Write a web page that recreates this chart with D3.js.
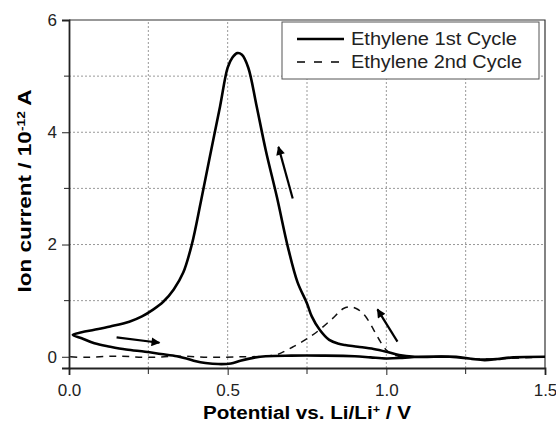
<!DOCTYPE html>
<html>
<head>
  <meta charset="utf-8">
  <script src="https://d3js.org/d3.v7.min.js"></script>
  <style>
    body { margin: 0; background: #fff; }
    svg { font-family: "Liberation Sans", Arial, Helvetica, sans-serif; }
    .grid line { stroke: #999; stroke-dasharray: 2,2; stroke-width: 1; }
  </style>
</head>
<body>
<svg width="556" height="425"></svg>
<script>
// 1st cycle (solid), in scan order: 1.5 V down to 0 V, then back up
var cycle1V = [1.50, 1.40, 1.35, 1.31, 1.27, 1.22, 1.15, 1.09, 1.04, 1.00, 0.96, 0.91, 0.87, 0.85, 0.82, 0.79, 0.765, 0.75, 0.72, 0.69, 0.655, 0.62, 0.59, 0.565, 0.545, 0.53, 0.515, 0.50, 0.476, 0.444, 0.415, 0.387, 0.36, 0.33, 0.297, 0.265, 0.23, 0.19, 0.13, 0.08, 0.04, 0.012,
               0.04, 0.08, 0.13, 0.18, 0.24, 0.29, 0.34, 0.37, 0.40, 0.43, 0.47, 0.51, 0.54, 0.58, 0.62, 0.70, 0.80, 0.90, 0.95, 1.00, 1.05, 1.10, 1.20, 1.30, 1.35, 1.40, 1.50];
var cycle1I = [0.00, -0.01, -0.04, -0.06, -0.04, 0.00, 0.00, 0.00, 0.03, 0.09, 0.14, 0.18, 0.21, 0.23, 0.30, 0.48, 0.72, 0.95, 1.33, 1.95, 2.85, 3.68, 4.50, 5.15, 5.38, 5.41, 5.33, 5.15, 4.46, 3.57, 2.75, 2.00, 1.50, 1.20, 0.98, 0.84, 0.72, 0.625, 0.54, 0.48, 0.435, 0.39,
               0.33, 0.24, 0.18, 0.13, 0.09, 0.05, 0.01, -0.03, -0.08, -0.11, -0.13, -0.12, -0.07, -0.02, 0.01, 0.02, 0.02, 0.01, -0.01, -0.03, -0.02, 0.00, 0.00, -0.05, -0.04, -0.01, 0.00];

// 2nd cycle (dashed)
var cycle2V = [1.50, 1.30, 1.20, 1.10, 1.03, 1.00, 0.975, 0.96, 0.943, 0.925, 0.905, 0.885, 0.865, 0.85, 0.83, 0.81, 0.785, 0.76, 0.735, 0.707, 0.68, 0.655, 0.62, 0.55, 0.45, 0.35, 0.25, 0.15, 0.05, 0.00];
var cycle2I = [0.00, -0.04, 0.00, 0.00, 0.02, 0.12, 0.33, 0.48, 0.65, 0.78, 0.86, 0.89, 0.86, 0.79, 0.68, 0.58, 0.46, 0.36, 0.27, 0.18, 0.10, 0.04, 0.01, 0.00, -0.01, 0.01, -0.01, 0.01, -0.01, 0.00];

// scan direction arrows [fromV, fromI, toV, toI]
var arrows = [
  [0.150, 0.345, 0.285, 0.25],
  [0.705, 2.82, 0.66, 3.74],
  [1.035, 0.27, 0.972, 0.845]
];

var xMajor = [0, 0.5, 1.0, 1.5];
var xMinor = [0.25, 0.75, 1.25];
var yMajor = [0, 2, 4, 6];
var yMinor = [1, 3, 5];

var seriesNames = ["Ethylene 1st Cycle", "Ethylene 2nd Cycle"];

var svg = d3.select("svg"),
    margin = {top: 20, right: 11, bottom: 57, left: 69},
    width = +svg.attr("width") - margin.left - margin.right,
    height = +svg.attr("height") - margin.top - margin.bottom;

var x = d3.scaleLinear().domain([0, 1.5]).range([margin.left, margin.left + width]);
var y = d3.scaleLinear().domain([-0.2, 6]).range([margin.top + height, margin.top]);

// gridlines
var grid = svg.append("g").attr("class", "grid");
grid.selectAll(".gx")
  .data(xMinor.concat([0.5, 1.0]))
  .enter().append("line")
    .attr("x1", function(d) { return x(d); })
    .attr("x2", function(d) { return x(d); })
    .attr("y1", y(-0.2)).attr("y2", y(6));
grid.selectAll(".gy")
  .data(yMinor.concat([2, 4]))
  .enter().append("line")
    .attr("y1", function(d) { return y(d); })
    .attr("y2", function(d) { return y(d); })
    .attr("x1", x(0)).attr("x2", x(1.5));

// frame top / right
svg.append("path")
  .attr("d", "M" + x(0) + "," + y(6) + "H" + x(1.5) + "V" + y(-0.2))
  .attr("fill", "none").attr("stroke", "#333").attr("stroke-width", 1.2);

// axes
var xAxis = svg.append("g")
  .attr("transform", "translate(0," + y(-0.2) + ")")
  .call(d3.axisBottom(x).tickValues(xMajor).tickSize(7).tickPadding(9)
        .tickFormat(d3.format(".1f")));
xAxis.append("g").selectAll("line")
  .data(xMinor).enter().append("line")
    .attr("x1", function(d) { return x(d); })
    .attr("x2", function(d) { return x(d); })
    .attr("y2", 6).attr("stroke", "#222");

var yAxis = svg.append("g")
  .attr("transform", "translate(" + x(0) + ",0)")
  .call(d3.axisLeft(y).tickValues(yMajor).tickSize(7).tickPadding(5)
        .tickFormat(d3.format("d")));
yAxis.append("g").selectAll("line")
  .data(yMinor).enter().append("line")
    .attr("y1", function(d) { return y(d); })
    .attr("y2", function(d) { return y(d); })
    .attr("x2", -5).attr("stroke", "#222");

[xAxis, yAxis].forEach(function(a) {
  a.select(".domain").attr("stroke", "#222").attr("stroke-width", 1.8);
  a.selectAll(".tick line").attr("stroke", "#222");
  a.selectAll("text").attr("font-size", 17).attr("fill", "#222")
    .attr("font-family", "'Liberation Sans', Arial, sans-serif");
});

// curves
var line = d3.line()
  .x(function(d) { return x(d[0]); })
  .y(function(d) { return y(d[1]); })
  .curve(d3.curveCatmullRom.alpha(0.5));

svg.append("path")
  .datum(d3.zip(cycle2V, cycle2I))
  .attr("d", line)
  .attr("fill", "none").attr("stroke", "#111").attr("stroke-width", 1.5)
  .attr("stroke-dasharray", "7,6");

svg.append("path")
  .datum(d3.zip(cycle1V, cycle1I))
  .attr("d", line)
  .attr("fill", "none").attr("stroke", "#000").attr("stroke-width", 2.6)
  .attr("stroke-linejoin", "round");

// arrows
svg.append("defs").append("marker")
  .attr("id", "head")
  .attr("viewBox", "0 0 10 10")
  .attr("refX", 9).attr("refY", 5)
  .attr("markerWidth", 5.5).attr("markerHeight", 4)
  .attr("markerUnits", "strokeWidth")
  .attr("orient", "auto")
  .append("path").attr("d", "M0,0L10,5L0,10Z").attr("fill", "#000");

svg.selectAll(".arrow")
  .data(arrows)
  .enter().append("line")
    .attr("x1", function(d) { return x(d[0]); })
    .attr("y1", function(d) { return y(d[1]); })
    .attr("x2", function(d) { return x(d[2]); })
    .attr("y2", function(d) { return y(d[3]); })
    .attr("stroke", "#000").attr("stroke-width", 2.2)
    .attr("marker-end", "url(#head)");

// legend
var legend = svg.append("g").attr("transform", "translate(282,22)");
legend.append("rect")
  .attr("width", 257).attr("height", 57)
  .attr("fill", "#fff").attr("stroke", "#555").attr("stroke-width", 1);
legend.selectAll(".item")
  .data(seriesNames)
  .enter().append("g")
    .attr("transform", function(d, i) { return "translate(0," + (17 + i * 23) + ")"; })
    .each(function(d, i) {
      var g = d3.select(this);
      g.append("line")
        .attr("x1", 15).attr("x2", 62)
        .attr("stroke", "#000")
        .attr("stroke-width", i == 0 ? 2.6 : 1.5)
        .attr("stroke-dasharray", i == 0 ? null : "8,9");
      g.append("text")
        .attr("x", 69).attr("dy", "0.36em")
        .attr("font-size", 18).attr("fill", "#222")
        .attr("textLength", i == 0 ? 166 : 171).attr("lengthAdjust", "spacingAndGlyphs")
        .text(d);
    });

// axis titles
svg.append("text")
  .attr("x", x(0.75)).attr("y", 419)
  .attr("text-anchor", "middle")
  .attr("font-size", 18).attr("font-weight", "bold")
  .attr("textLength", 208).attr("lengthAdjust", "spacingAndGlyphs")
  .html("Potential vs. Li/Li<tspan dy='-6' font-size='11'>+</tspan><tspan dy='6'> / V</tspan>");

svg.append("text")
  .attr("transform", "translate(31,191) rotate(-90)")
  .attr("text-anchor", "middle")
  .attr("font-size", 18).attr("font-weight", "bold")
  .attr("textLength", 203).attr("lengthAdjust", "spacingAndGlyphs")
  .html("Ion current / 10<tspan dy='-6' font-size='11'>-12</tspan><tspan dy='6'> A</tspan>");
</script>
</body>
</html>
